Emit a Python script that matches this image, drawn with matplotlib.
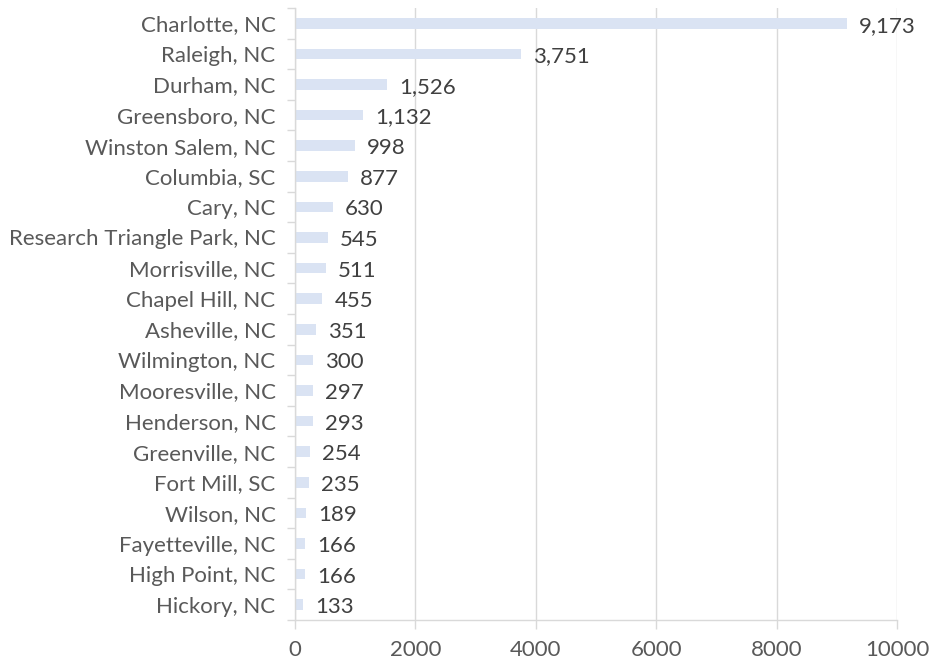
import matplotlib
matplotlib.use("Agg")
import matplotlib.pyplot as plt
from matplotlib.ticker import FixedLocator

cities = ["Charlotte, NC", "Raleigh, NC", "Durham, NC", "Greensboro, NC", "Winston Salem, NC",
          "Columbia, SC", "Cary, NC", "Research Triangle Park, NC", "Morrisville, NC", "Chapel Hill, NC",
          "Asheville, NC", "Wilmington, NC", "Mooresville, NC", "Henderson, NC", "Greenville, NC",
          "Fort Mill, SC", "Wilson, NC", "Fayetteville, NC", "High Point, NC", "Hickory, NC"]
values = [9173, 3751, 1526, 1132, 998, 877, 630, 545, 511, 455,
          351, 300, 297, 293, 254, 235, 189, 166, 166, 133]
xticks = [0, 2000, 4000, 6000, 8000, 10000]

plt.rcParams['font.family'] = ['Lato', 'DejaVu Sans']
txt = '#595959'
grid = '#D9D9D9'

fig = plt.figure(figsize=(9.3, 6.61), dpi=100)
ax = fig.add_axes([295/930, 1-620/661, (897-295)/930, (620-8)/661])

n = len(cities)
ypos = list(range(n))
ax.barh(ypos, values, height=0.35, color='#DAE3F3', zorder=2)
ax.set_ylim(n-0.5, -0.5)
ax.set_xlim(0, 10000)

for y, v in zip(ypos, values):
    ax.text(v + 200, y + 0.08, f"{v:,}", va='center', ha='left', fontsize=16, color='#404040', zorder=3)

ax.set_xticks(xticks)
ax.set_xticklabels([str(t) for t in xticks])
ax.set_yticks(ypos)
ax.set_yticklabels(cities)
ax.yaxis.set_minor_locator(FixedLocator([i - 0.5 for i in range(n + 1)]))
ax.tick_params(axis='y', which='major', length=0, pad=14, labelsize=16, labelcolor=txt)
ax.tick_params(axis='y', which='minor', length=6, color=grid, width=1)
ax.tick_params(axis='x', which='major', length=6.5, color=grid, width=1, pad=8, labelsize=16, labelcolor=txt)

ax.grid(axis='x', color=grid, linewidth=1, zorder=0)
for s in ['top', 'right']:
    ax.spines[s].set_visible(False)
for s in ['left', 'bottom']:
    ax.spines[s].set_color(grid)
    ax.spines[s].set_linewidth(1)

fig.savefig('out.png', dpi=100, facecolor='white')
